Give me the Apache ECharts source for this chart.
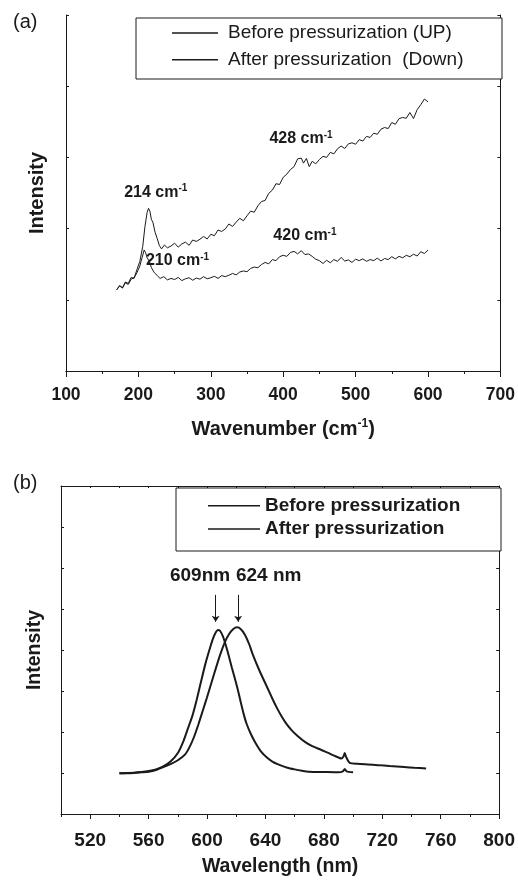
<!DOCTYPE html>
<html>
<head>
<meta charset="utf-8">
<script src="https://cdn.jsdelivr.net/npm/echarts@6/dist/echarts.min.js"></script>
<style>
  html, body { margin: 0; padding: 0; background: #fff; }
  #chart { width: 518px; height: 881px; }
</style>
</head>
<body>
<div id="chart"></div>
<script>
// (a) Raman spectra
var ramanUpX = [170,174,178,182,186,190,194,198,202,206,209,212,214,216,218,220,223,226,229,232,236,240,245,250,255,260,265,270,275,280,285,290,295,300,305,310,315,320,325,330,335,340,345,350,355,360,365,370,375,380,385,390,395,400,405,410,415,420,425,428,432,436,440,445,450,455,460,465,470,475,480,485,490,495,500,505,510,515,520,525,530,535,540,545,550,555,560,565,570,575,580,585,590,595,600];
var ramanUpY = [22.8,24.0,23.4,25.0,24.6,26.3,26.0,28.5,30.8,35.0,40.5,44.5,45.7,44.8,42.5,41.8,39.0,37.2,35.2,34.3,35.4,34.6,35.1,35.9,34.8,35.7,36.2,35.3,36.8,36.4,37.0,37.8,37.1,38.4,38.0,39.6,39.2,39.9,41.3,40.6,41.8,42.9,42.2,43.6,44.9,44.6,46.4,47.6,47.9,49.9,50.8,52.6,52.4,54.4,55.3,56.6,57.4,59.6,59.8,58.4,59.7,57.4,58.9,58.2,59.4,60.3,60.0,61.4,61.0,62.4,63.2,62.5,63.8,64.1,63.7,65.0,64.6,65.9,65.6,66.8,66.5,67.9,68.4,68.1,69.8,69.3,70.9,71.2,71.0,72.6,70.9,73.4,74.8,76.4,75.6];

var ramanDownX = [170,174,178,182,186,190,194,198,202,205,208,210,212,215,218,222,226,230,235,240,245,250,255,260,265,270,275,280,285,290,295,300,305,310,315,320,325,330,335,340,345,350,355,360,365,370,375,380,385,390,395,400,405,410,415,420,425,430,435,440,445,450,455,460,465,470,475,480,485,490,495,500,505,510,515,520,525,530,535,540,545,550,555,560,565,570,575,580,585,590,595,600];
var ramanDownY = [22.8,23.9,23.3,24.8,24.3,25.8,26.2,27.6,29.5,31.8,34.0,33.2,31.8,30.9,29.0,27.6,26.8,26.0,26.5,25.6,26.0,25.7,26.3,25.4,25.9,26.2,25.5,26.1,25.8,26.5,25.9,26.2,26.6,26.0,26.8,26.5,26.9,27.4,27.0,27.8,28.1,27.9,28.8,29.2,29.0,29.9,30.5,30.1,31.3,31.0,32.1,32.5,32.2,33.3,33.6,32.9,33.8,32.7,32.9,32.2,31.4,31.0,30.2,31.1,30.4,31.3,30.8,31.9,30.9,31.2,30.5,31.4,31.0,31.5,30.8,31.3,31.0,31.7,30.9,31.6,31.3,32.1,31.5,32.2,31.8,32.5,32.1,32.8,32.3,33.5,33.0,34.0];

// (b) photoluminescence spectra
var pl609X = [540,545,550,555,560,565,570,575,580,584,587,590,593,596,599,602,604,606,607.5,609,611,613,615,617,619,621,623,625,627,630,633,637,641,645,650,655,660,665,670,680,690,693,694.3,695.5,700];
var pl609Y = [12.4,12.5,12.6,12.8,13.1,13.6,14.5,16.0,18.6,22.4,26.2,30.0,35.0,40.6,46.0,50.6,53.4,55.4,56.1,55.8,54.0,51.2,48.0,44.6,41.4,38.0,34.2,30.6,27.6,24.4,21.8,19.0,17.2,15.9,14.9,14.1,13.6,13.2,12.9,12.8,12.7,13.0,13.7,13.0,12.7];

var pl624X = [540,545,550,555,560,565,570,575,580,585,588,591,594,597,600,603,606,609,612,615,618,620.5,623,626,629,631,636,641,645,648,651,654,658,662,667,672,678,684,688,692,693.5,694.3,695.2,697.7,703,710,717,725,735,742,750];
var pl624Y = [12.4,12.4,12.5,12.7,12.9,13.4,14.3,15.2,16.4,18.2,20.4,23.4,27.2,31.4,35.6,40.0,44.4,48.6,52.2,54.8,56.4,56.9,56.4,54.6,51.6,49.0,43.6,38.8,34.9,32.2,29.8,27.7,25.5,23.8,22.0,20.7,19.6,18.4,17.6,16.9,17.6,18.6,17.4,15.6,15.3,15.1,14.9,14.6,14.3,14.1,13.9];

// tick labels of panel (b)
var plMajorTicks = [520,560,600,640,680,720,760,800];
var plMinorTicks = [500,540,580,620,660,700,740,780];

function pairs(xs, ys) {
  var out = [];
  for (var i = 0; i < xs.length; i++) out.push([xs[i], ys[i]]);
  return out;
}

var FONT = 'Liberation Sans, Arial, Helvetica, sans-serif';
var INK = '#1a1a1a';
var axisLine = { show: true, lineStyle: { color: INK, width: 1 } };

var supRich = {
  m: { fontFamily: FONT, fontSize: 16, fontWeight: 'bold', color: INK, lineHeight: 18 },
  s: { fontFamily: FONT, fontSize: 10, fontWeight: 'bold', color: INK, verticalAlign: 'top' }
};
var bigRich = {
  m: { fontFamily: FONT, fontSize: 19, fontWeight: 'bold', color: INK }
};

function note(x, y, txt, rich) {
  return {
    coord: [x, y], symbol: 'circle', symbolSize: 1, itemStyle: { color: 'transparent' },
    label: { show: true, position: 'inside', formatter: txt, rich: rich || supRich }
  };
}

function arrow(x, y0, y1) {
  return {
    silent: true, symbol: ['none', 'arrow'], symbolSize: 6,
    lineStyle: { color: INK, width: 1, type: 'solid' }, label: { show: false },
    data: [[{ coord: [x, y0] }, { coord: [x, y1] }]]
  };
}

var chart = echarts.init(document.getElementById('chart'), null, { renderer: 'canvas' });

var option = {
  animation: false,
  backgroundColor: '#fff',
  grid: [
    { left: 66, right: 16, top: 15, bottom: 510 },
    { left: 61, right: 16, top: 486, bottom: 67 }
  ],
  legend: [
    {
      data: ['Before pressurization (UP)', 'After pressurization  (Down)'],
      orient: 'vertical', left: 172, top: 23, padding: 0, icon: 'rect',
      itemWidth: 46, itemHeight: 1.5, itemGap: 6.7, selectedMode: false,
      textStyle: { fontFamily: FONT, fontSize: 19, color: INK, lineHeight: 20, padding: [0, 0, 0, 5] }
    },
    {
      data: ['Before pressurization', 'After pressurization'],
      orient: 'vertical', left: 208, top: 495.7, padding: 0, icon: 'rect',
      itemWidth: 52, itemHeight: 1.5, itemGap: 3.3, selectedMode: false,
      textStyle: { fontFamily: FONT, fontSize: 19, fontWeight: 'bold', color: INK, lineHeight: 20 }
    }
  ],
  graphic: [
    { type: 'rect', z: 1, shape: { x: 136, y: 18, width: 366, height: 61 },
      style: { fill: '#fff', stroke: INK, lineWidth: 1 } },
    { type: 'rect', z: 1, shape: { x: 176, y: 488, width: 325, height: 63 },
      style: { fill: '#fff', stroke: INK, lineWidth: 1 } },
    { type: 'text', left: 13, top: 12, style: { text: '(a)', font: '20px ' + FONT, fill: INK } },
    { type: 'text', left: 13, top: 473, style: { text: '(b)', font: '20px ' + FONT, fill: INK } }
  ],
  xAxis: [
    {
      gridIndex: 0, type: 'value', position: 'bottom', min: 100, max: 700, interval: 100,
      axisLine: axisLine, splitLine: { show: false },
      axisTick: { show: true, inside: false, length: 6, lineStyle: { color: INK } },
      minorTick: { show: true, splitNumber: 2, length: 3, lineStyle: { color: INK } },
      axisLabel: { fontFamily: FONT, fontSize: 17.5, fontWeight: 'bold', color: INK, margin: 15 },
      name: '{m|Wavenumber (cm}{s|-1}{m|)}', nameLocation: 'middle', nameGap: 47,
      nameTextStyle: {
        rich: {
          m: { fontFamily: FONT, fontSize: 20, fontWeight: 'bold', color: INK, lineHeight: 22 },
          s: { fontFamily: FONT, fontSize: 12, fontWeight: 'bold', color: INK, verticalAlign: 'top' }
        }
      }
    },
    {
      gridIndex: 0, type: 'value', position: 'top', min: 100, max: 700, interval: 50,
      axisLine: axisLine, splitLine: { show: false },
      axisTick: { show: true, inside: true, length: 2, lineStyle: { color: INK } },
      axisLabel: { show: false }
    },
    {
      gridIndex: 1, type: 'value', position: 'bottom', min: 500, max: 800,
      axisLine: axisLine, splitLine: { show: false },
      axisTick: { show: true, inside: false, length: 5, customValues: plMajorTicks, lineStyle: { color: INK } },
      axisLabel: { fontFamily: FONT, fontSize: 19, fontWeight: 'bold', color: INK, margin: 17, customValues: plMajorTicks },
      name: 'Wavelength (nm)', nameLocation: 'middle', nameGap: 43,
      nameTextStyle: { fontFamily: FONT, fontSize: 19.5, fontWeight: 'bold', color: INK }
    },
    {
      gridIndex: 1, type: 'value', position: 'bottom', min: 500, max: 800,
      axisLine: { show: false }, splitLine: { show: false },
      axisTick: { show: true, inside: false, length: 3, customValues: plMinorTicks, lineStyle: { color: INK } },
      axisLabel: { show: false }
    },
    {
      gridIndex: 1, type: 'value', position: 'top', min: 500, max: 800, interval: 20,
      axisLine: axisLine, splitLine: { show: false },
      axisTick: { show: true, inside: true, length: 2, lineStyle: { color: INK } },
      axisLabel: { show: false }
    }
  ],
  yAxis: [
    {
      gridIndex: 0, type: 'value', position: 'left', min: 0, max: 100, interval: 20,
      axisLine: axisLine, splitLine: { show: false },
      axisTick: { show: true, inside: true, length: 3, lineStyle: { color: INK } },
      axisLabel: { show: false },
      name: 'Intensity', nameLocation: 'middle', nameGap: 18.5,
      nameTextStyle: { fontFamily: FONT, fontSize: 20, fontWeight: 'bold', color: INK }
    },
    {
      gridIndex: 0, type: 'value', position: 'right', min: 0, max: 100, interval: 20,
      axisLine: axisLine, splitLine: { show: false },
      axisTick: { show: true, inside: true, length: 3, lineStyle: { color: INK } },
      axisLabel: { show: false }
    },
    {
      gridIndex: 1, type: 'value', position: 'left', min: 0, max: 100, interval: 12.5,
      axisLine: axisLine, splitLine: { show: false },
      axisTick: { show: true, inside: true, length: 3, lineStyle: { color: INK } },
      axisLabel: { show: false },
      name: 'Intensity', nameLocation: 'middle', nameGap: 16.5,
      nameTextStyle: { fontFamily: FONT, fontSize: 19.5, fontWeight: 'bold', color: INK }
    },
    {
      gridIndex: 1, type: 'value', position: 'right', min: 0, max: 100, interval: 12.5,
      axisLine: axisLine, splitLine: { show: false },
      axisTick: { show: true, inside: true, length: 3, lineStyle: { color: INK } },
      axisLabel: { show: false }
    }
  ],
  series: [
    {
      name: 'Before pressurization (UP)', type: 'line', xAxisIndex: 0, yAxisIndex: 0,
      data: pairs(ramanUpX, ramanUpY), symbol: 'none', showSymbol: false, z: 3,
      lineStyle: { color: INK, width: 1 }, itemStyle: { color: INK },
      markPoint: { silent: true, data: [
        note(224, 50.2, '{m|214 cm}{s|-1}'),
        note(424.6, 65.2, '{m|428 cm}{s|-1}')
      ] }
    },
    {
      name: 'After pressurization  (Down)', type: 'line', xAxisIndex: 0, yAxisIndex: 0,
      data: pairs(ramanDownX, ramanDownY), symbol: 'none', showSymbol: false, z: 3,
      lineStyle: { color: INK, width: 1 }, itemStyle: { color: INK },
      markPoint: { silent: true, data: [
        note(254, 30.9, '{m|210 cm}{s|-1}'),
        note(430, 37.9, '{m|420 cm}{s|-1}')
      ] }
    },
    {
      name: 'Before pressurization', type: 'line', xAxisIndex: 2, yAxisIndex: 2,
      data: pairs(pl609X, pl609Y), symbol: 'none', showSymbol: false, smooth: 0.2, z: 3,
      lineStyle: { color: INK, width: 2 }, itemStyle: { color: INK },
      markPoint: { silent: true, data: [ note(595.2, 72.7, '{m|609nm}', bigRich) ] },
      markLine: arrow(605.9, 66.8, 58.6)
    },
    {
      name: 'After pressurization', type: 'line', xAxisIndex: 2, yAxisIndex: 2,
      data: pairs(pl624X, pl624Y), symbol: 'none', showSymbol: false, smooth: 0.2, z: 3,
      lineStyle: { color: INK, width: 2 }, itemStyle: { color: INK },
      markPoint: { silent: true, data: [ note(642.2, 72.7, '{m|624 nm}', bigRich) ] },
      markLine: arrow(621.3, 66.8, 58.6)
    }
  ]
};

chart.setOption(option);
</script>
</body>
</html>
